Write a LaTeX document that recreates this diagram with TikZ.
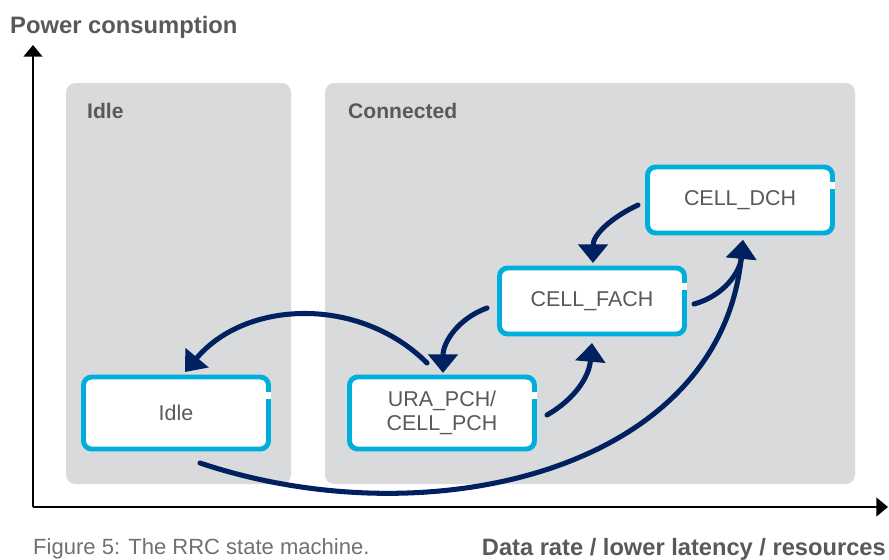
\documentclass[tikz,border=0pt]{standalone}
\usepackage{fontspec}
\setmainfont{Liberation Sans}
\usetikzlibrary{arrows.meta}
\definecolor{panelgray}{HTML}{D9DADC}
\definecolor{statecyan}{HTML}{00AEDB}
\definecolor{arrownavy}{HTML}{00215F}
\definecolor{labelgray}{HTML}{58595B}
\definecolor{captiongray}{HTML}{707174}

\begin{document}
\begin{tikzpicture}[x=0.03cm,y=-0.03cm,
    panel/.style={fill=panelgray,rounded corners=8pt},
    state/.style={draw=statecyan,line width=4.2pt,fill=white,rounded corners=7pt,outer sep=0pt,
        minimum width=5.55cm,text=labelgray,align=center,font=\fontsize{18.3}{21}\selectfont},
    trans/.style={arrownavy,line width=4.3pt,line cap=round,-{Triangle[width=25pt,length=16pt]}},
    axis/.style={line width=2pt,-{Triangle[width=16pt,length=10pt]}},
    heading/.style={inner sep=0pt,text=labelgray,font=\bfseries\fontsize{18}{20}\selectfont}]
    \useasboundingbox (0,0) rectangle (889,560);

    % Panels %
    \fill[panel] (66,83) rectangle (291,484);
    \fill[panel] (325,83) rectangle (855,484);
    \node[heading,anchor=west] (idlehead) at (87,111) {Idle};
    \node[heading,anchor=west] (connhead) at (348,111) {Connected};

    % Axes %
    \draw[axis] (33,507) -- (33,45);
    \draw[axis] (33,507) -- (888,507);
    \node[heading,anchor=base west,font=\bfseries\fontsize{20.3}{22}\selectfont] (ylabel) at (10,33) {Power consumption};
    \node[heading,anchor=base east,font=\bfseries\fontsize{20.2}{22}\selectfont] (xlabel) at (886,555) {Data rate / lower latency / resources};
    \node[anchor=base west,inner sep=0pt,text=captiongray,font=\fontsize{18.8}{20}\selectfont] (caption) at (33,554) {Figure 5: The RRC state machine.};

    % States %
    \node[state,minimum height=2.16cm] (idle) at (176,413) {Idle};
    \node[state,minimum height=2.16cm] (ura) at (442,413) {URA\_PCH/\\CELL\_PCH};
    \node[state,minimum height=1.98cm] (fach) at (592,301) {CELL\_FACH};
    \node[state,minimum height=1.98cm] (dch) at (740,200) {CELL\_DCH};
    \draw[white,line width=4pt] ([shift={(0,14.5)}]idle.north east) -- ([shift={(0,21.5)}]idle.north east);
    \draw[white,line width=4pt] ([shift={(0,14.5)}]ura.north east) -- ([shift={(0,21.5)}]ura.north east);
    \draw[white,line width=4pt] ([shift={(0,14.5)}]fach.north east) -- ([shift={(0,21.5)}]fach.north east);
    \draw[white,line width=4pt] ([shift={(0,14.5)}]dch.north east) -- ([shift={(0,21.5)}]dch.north east);

    % Transitions %
    \draw[trans] ([shift={(-9.5,5)}]dch.west) to[out=205,in=90] ([shift={(1,-5)}]fach.north);
    \draw[trans] ([shift={(-12.5,7)}]fach.west) to[out=200,in=90] ([shift={(1,-4)}]ura.north);
    \draw[trans] ([shift={(12.5,2)}]ura.east) to[out=30,in=-95] ([shift={(0,9)}]fach.south);
    \draw[trans] ([shift={(9.5,3)}]fach.east) to[out=15,in=-95] ([shift={(3,7)}]dch.south);
    \draw[trans] ([shift={(-15,-14)}]ura.north) to[out=135,in=50] ([shift={(9,-5)}]idle.north);
    \draw[trans] ([shift={(24,14)}]idle.south) .. controls +(230,77) and +(-23,230) .. ([shift={(3,7)}]dch.south);
\end{tikzpicture}
\end{document}
